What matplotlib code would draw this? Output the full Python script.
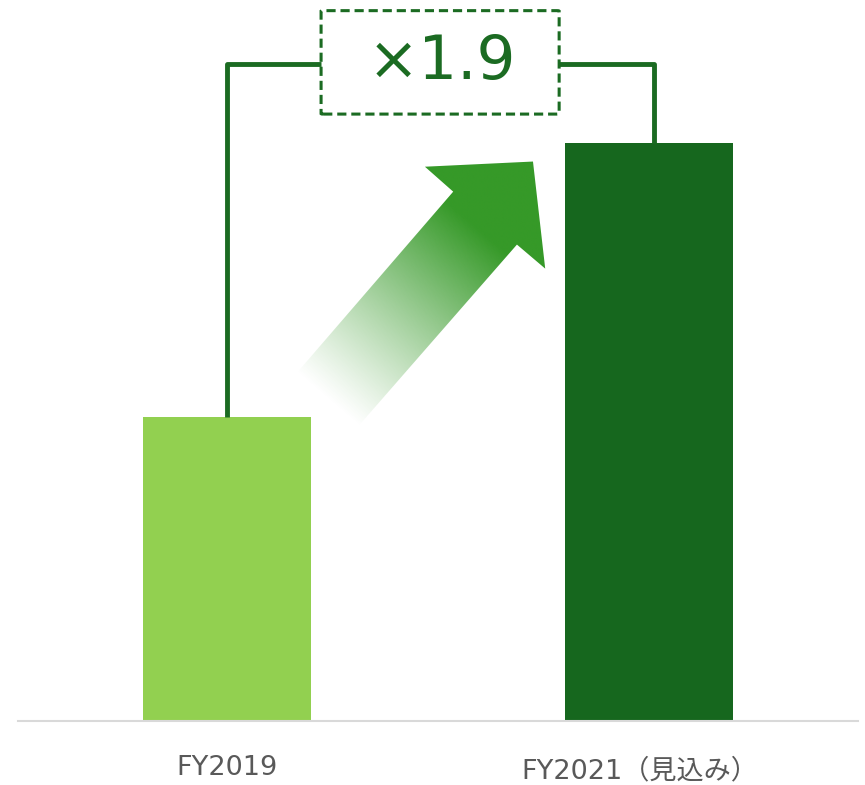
import numpy as np
import matplotlib
matplotlib.use('Agg')
import matplotlib.pyplot as plt
from matplotlib.patches import Polygon, FancyBboxPatch

plt.rcParams['font.family'] = ['DejaVu Sans', 'Noto Sans CJK JP']

categories = ['FY2019', 'FY2021（見込み）']
values = [100, 190]
bar_colors = ['#92d050', '#16671e']

line_green = '#1b6b22'
arrow_green = np.array([0x36, 0x99, 0x28]) / 255

fig = plt.figure(figsize=(8.65, 7.85), dpi=100)
ax = fig.add_axes([18 / 865, 64 / 785, 840 / 865, 721 / 785])
x = np.arange(len(categories))
ax.bar(x, values, width=0.4, color=bar_colors, zorder=2)
ax.set_xlim(-0.495, 1.495)
ax.set_ylim(0, 237)

for s in ['left', 'right', 'top']:
    ax.spines[s].set_visible(False)
ax.spines['bottom'].set_color('#d9d9d9')
ax.spines['bottom'].set_linewidth(1.5)
ax.set_yticks([])
ax.set_xticks([])

# category labels (the CJK one sits a little lower, as in the original)
label_y = [-54 / 721, -57 / 721]
label_dx = [0.0, -0.022]
for xi, lab, ly, dx in zip(x, categories, label_y, label_dx):
    ax.text(xi + dx, ly, lab, transform=ax.get_xaxis_transform(), ha='center',
            va='baseline', fontsize=19.5, color='#595959')

# bracket with ratio box
ratio = values[1] / values[0]
top = 216
box_l, box_r = 0.223, 0.787
ax.plot([x[0], x[0], box_l], [values[0], top, top], color=line_green, lw=3.5,
        solid_capstyle='butt', zorder=3)
ax.plot([box_r, x[1] + 0.012, x[1] + 0.012], [top, top, values[1]], color=line_green,
        lw=3.5, solid_capstyle='butt', zorder=3)
box = FancyBboxPatch((box_l, 199.5), box_r - box_l, 34, boxstyle='round,pad=0,rounding_size=0.005',
                     fill=False, edgecolor=line_green, lw=2.2, linestyle=(0, (3, 1.6)),
                     mutation_aspect=30, zorder=3)
ax.add_patch(box)
ax.text(0.509, 210.9, f'×{ratio:.1f}', ha='center', va='baseline',
        fontsize=44, color=line_green, zorder=4)

# gradient arrow
arrow_pts = np.array([
    [0.166, 114.5], [0.310, 96.7], [0.687, 156.6], [0.754, 148.7],
    [0.725, 183.9], [0.469, 182.2], [0.536, 174.0],
])
poly = Polygon(arrow_pts, closed=True, facecolor='none', edgecolor='none')
ax.add_patch(poly)
x0, x1 = arrow_pts[:, 0].min(), arrow_pts[:, 0].max()
y0, y1 = arrow_pts[:, 1].min(), arrow_pts[:, 1].max()
gx, gy = np.meshgrid(np.linspace(x0, x1, 300), np.linspace(y0, y1, 300))
disp = ax.transData.transform(np.column_stack([gx.ravel(), gy.ravel()]))
tail = ax.transData.transform((arrow_pts[0] + arrow_pts[1]) / 2)
tip = ax.transData.transform(arrow_pts[4])
d = tip - tail
t = ((disp - tail) @ d) / (d @ d)
alpha = np.clip(t / 0.72, 0, 1) ** 1.1
img = np.zeros((300, 300, 4))
img[..., :3] = arrow_green
img[..., 3] = alpha.reshape(300, 300)
im = ax.imshow(img, extent=[x0, x1, y0, y1], origin='lower', aspect='auto',
               interpolation='bilinear', zorder=1)
im.set_clip_path(poly)

fig.savefig('out.png', dpi=100)
